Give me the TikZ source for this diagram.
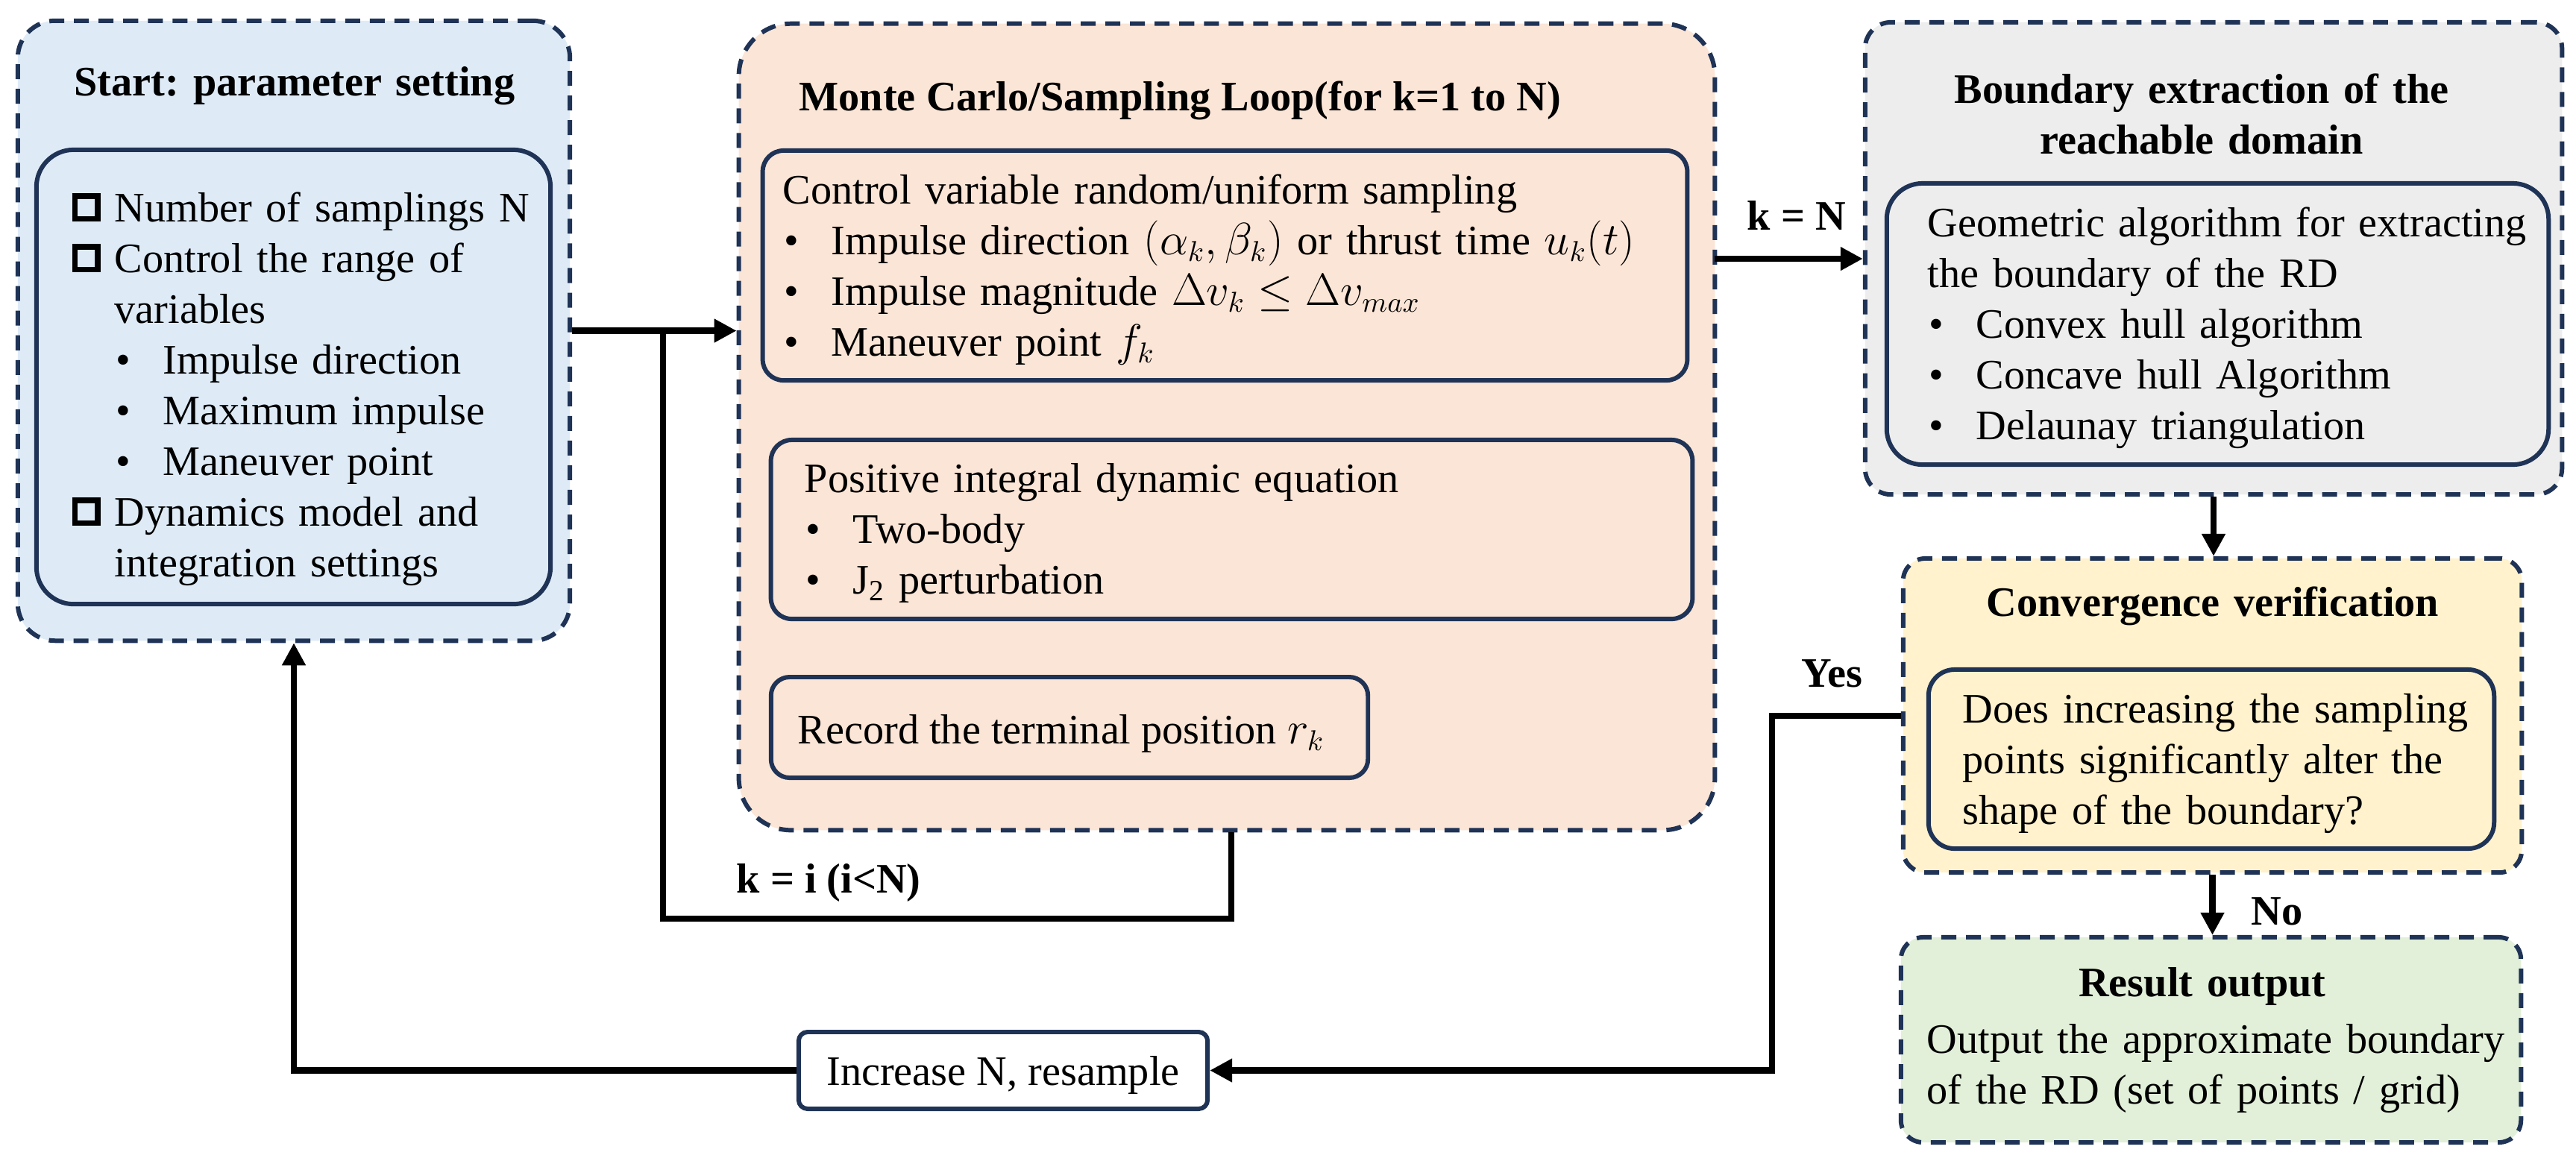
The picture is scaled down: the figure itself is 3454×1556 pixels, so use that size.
\documentclass[tikz,border=0pt]{standalone}
\usepackage{fontspec}
\setmainfont{Liberation Serif}
\usetikzlibrary{arrows.meta}
\frenchspacing
\definecolor{navy}{HTML}{1F3356}
\definecolor{startfill}{HTML}{DEEBF7}
\definecolor{midfill}{HTML}{FBE5D6}
\definecolor{boundfill}{HTML}{EDEDED}
\definecolor{convfill}{HTML}{FFF2CC}
\definecolor{resfill}{HTML}{E2F0D9}
\newcommand{\fs}{\fontsize{16pt}{19.35pt}\selectfont}
\newcommand{\sqb}{\raisebox{0.075cm}{\setlength{\fboxsep}{0pt}\setlength{\fboxrule}{0.075cm}\fbox{\rule{0pt}{0.23cm}\rule{0.23cm}{0pt}}}}
\newcommand{\sqitem}{\makebox[0.57cm][l]{\sqb}}
\newcommand{\bul}{\makebox[0.65cm][l]{\hspace{0.02cm}\textbullet}}
\begin{document}
\begin{tikzpicture}[x=0.01cm,y=-0.01cm,
  outerbox/.style={draw=navy, line width=1.7pt, dash pattern=on 5.7pt off 3.7pt, inner sep=0pt},
  innerbox/.style={draw=navy, line width=1.7pt, inner sep=0pt},
  txt/.style={anchor=base west, inner sep=0pt, font=\fs},
  list/.style={txt, text width=#1, align=left},
  ctitle/.style={anchor=base, inner sep=0pt, font=\fs\bfseries, text width=#1, align=center},
  conn/.style={line width=2.3pt, black},
  arr/.style={conn, -{Triangle[length=0.3cm,width=0.3cm]}}]
\fill[white] (0,0) rectangle (3454,1556);
\useasboundingbox (0,0) rectangle (3454,1556);
% outer boxes
\node[outerbox, fill=startfill, rounded corners=0.5cm, minimum width=7.40cm, minimum height=8.31cm] (start) at (394,443.5) {};
\node[outerbox, fill=midfill, rounded corners=0.7cm, minimum width=13.08cm, minimum height=10.81cm] (mid) at (1645,572.5) {};
\node[outerbox, fill=boundfill, rounded corners=0.35cm, minimum width=9.34cm, minimum height=6.33cm] (bound) at (2968,346.5) {};
\node[outerbox, fill=convfill, rounded corners=0.3cm, minimum width=8.29cm, minimum height=4.21cm] (conv) at (2966.5,959.5) {};
\node[outerbox, fill=resfill, rounded corners=0.3cm, minimum width=8.31cm, minimum height=2.75cm] (res) at (2964.5,1394.5) {};
% inner boxes
\node[innerbox, rounded corners=0.5cm, minimum width=6.89cm, minimum height=6.09cm] (startin) at (393.5,505.5) {};
\node[innerbox, rounded corners=0.28cm, minimum width=12.39cm, minimum height=3.08cm] (midin1) at (1642.5,356) {};
\node[innerbox, rounded corners=0.28cm, minimum width=12.35cm, minimum height=2.40cm] (midin2) at (1651.5,710) {};
\node[innerbox, rounded corners=0.25cm, minimum width=8.00cm, minimum height=1.35cm] (midin3) at (1434,975.5) {};
\node[innerbox, rounded corners=0.48cm, minimum width=8.87cm, minimum height=3.77cm] (boundin) at (2973.5,434.5) {};
\node[innerbox, rounded corners=0.35cm, minimum width=7.58cm, minimum height=2.40cm] (convin) at (2965,1018) {};
\node[innerbox, fill=white, rounded corners=0.12cm, minimum width=5.48cm, minimum height=1.03cm, font=\fs, text depth=0pt] (inc) at (1345,1435.5) {Increase N, resample};
% texts
\node[ctitle=6.6cm] (starttitle) at (395,128) {Start: parameter setting};
\node[list=6.4cm] (startlist) at (96,297) {\sqitem Number of samplings N\\
\sqitem Control the range of\\
\hspace*{0.57cm}variables\\
\hspace*{0.57cm}\bul Impulse direction\\
\hspace*{0.57cm}\bul Maximum impulse\\
\hspace*{0.57cm}\bul Maneuver point\\
\sqitem Dynamics model and\\
\hspace*{0.57cm}integration settings};
\node[txt, font=\fs\bfseries] (midtitle) at (1071,148) {Monte Carlo/Sampling Loop(for k=1 to N)};
\node[list=11.8cm] (midtext1) at (1049,273) {Control variable random/uniform sampling\\
\bul Impulse direction $(\alpha_k,\beta_k)$ or thrust time $u_k(t)$\\
\bul Impulse magnitude $\Delta v_k\le\Delta v_{max}$\\
\bul Maneuver point $f_k$};
\node[list=11.5cm] (midtext2) at (1078,660) {Positive integral dynamic equation\\
\bul Two-body\\
\bul J\textsubscript{2} perturbation};
\node[txt] (midtext3) at (1069,997) {Record the terminal position $r_k$};
\node[ctitle=8.6cm] (boundtitle) at (2952,138) {Boundary extraction of the\\ reachable domain};
\node[list=8.3cm] (boundtext) at (2584,317) {Geometric algorithm for extracting\\
the boundary of the RD\\
\bul Convex hull algorithm\\
\bul Concave hull Algorithm\\
\bul Delaunay triangulation};
\node[ctitle=7.6cm] (convtitle) at (2967,826) {Convergence verification};
\node[list=7.0cm] (convtext) at (2631,969) {Does increasing the sampling\\
points significantly alter the\\
shape of the boundary?};
\node[ctitle=7.6cm] (restitle) at (2953,1336) {Result output};
\node[list=7.8cm] (restext) at (2583,1412) {Output the approximate boundary\\
of the RD (set of points / grid)};
% labels
\node[txt, font=\fs\bfseries] (lkn) at (2342,308) {k = N};
\node[txt, font=\fs\bfseries] (lyes) at (2415,921) {Yes};
\node[txt, font=\fs\bfseries] (lno) at (3018,1240) {No};
\node[txt, font=\fs\bfseries] (lki) at (987,1197) {k = i (i<N)};
% connectors
\coordinate (loopR) at (1651,1232);
\coordinate (loopL) at (889,1232);
\coordinate (loopJ) at (889,443.5);
\coordinate (kn) at (2299,347);
\coordinate (yesC) at (2376,960);
\draw[arr] (start.east) -- (start.east -| mid.west);
\draw[conn] (mid.south -| loopR) -- (loopR) -- (loopL) -- (loopJ);
\draw[arr] (kn) -- (kn -| bound.west);
\draw[arr] (bound.south) -- (bound.south |- conv.north);
\draw[arr] (conv.south) -- (conv.south |- res.north);
\draw[arr] (conv.west |- yesC) -- (yesC) -- (yesC |- inc.east) -- (inc.east);
\draw[arr] (inc.west) -- (inc.west -| start.south) -- (start.south);
\end{tikzpicture}
\end{document}
